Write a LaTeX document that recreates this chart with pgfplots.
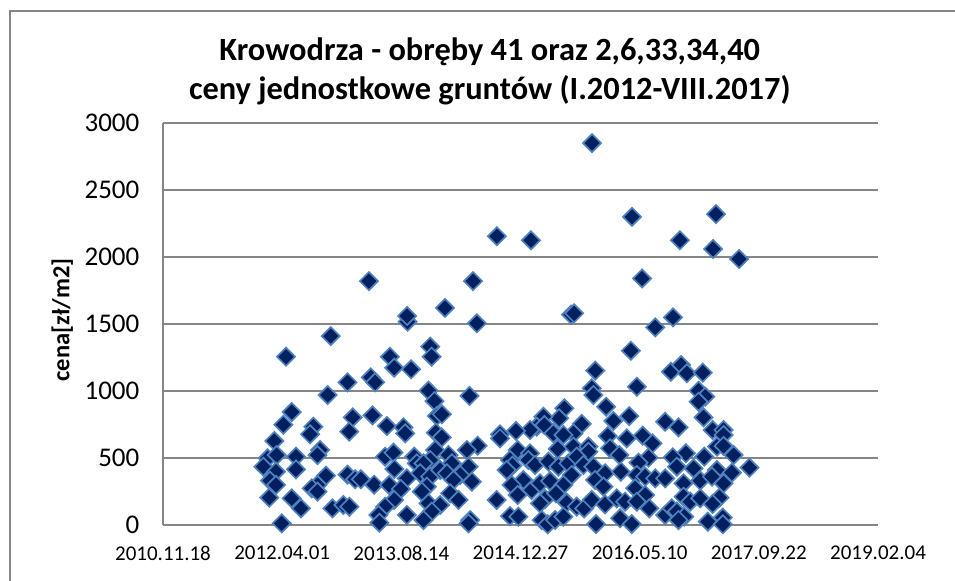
\documentclass[border=0pt]{standalone}
\usepackage{pgfplots}
\pgfplotsset{compat=1.18}
\usepackage{fontspec}
\setmainfont{Carlito}
\definecolor{gridgrey}{HTML}{868686}
\definecolor{markfill}{HTML}{002060}
\definecolor{markline}{HTML}{4F81BD}
\begin{document}
\begin{tikzpicture}[x=1bp,y=1bp]
\path[use as bounding box] (0,0) rectangle (955,-581);
\node[anchor=base,font=\rmfamily\fontsize{22bp}{22bp}\selectfont] at (462,3) {y};
\draw[gridgrey,line width=1.3bp] (10,-581) -- (10,-11) -- (955,-11);
\begin{axis}[
  at={(163bp,-525bp)},anchor=origin,
  scale only axis,width=715bp,height=402bp,
  xmin=40500,xmax=43500,ymin=0,ymax=3000,
  clip=false,
  scaled x ticks=false,
  axis y line=left,axis x line=bottom,
  axis line style={-,color=gridgrey,line width=1.5bp},
  ymajorgrids,grid style={color=gridgrey,line width=1.5bp},
  tick style={draw=none},
  xtick={40500,41000,41500,42000,42500,43000,43500},
  xticklabels={2010.11.18,2012.04.01,2013.08.14,2014.12.27,2016.05.10,2017.09.22,2019.02.04},
  ytick={0,500,1000,1500,2000,2500,3000},
  yticklabels={0,500,1000,1500,2000,2500,3000},
  yticklabel style={font=\fontsize{27bp}{27bp}\selectfont,xshift=-18bp},
  xticklabel style={font=\fontsize{21bp}{21bp}\selectfont,yshift=-15bp},
  ylabel={cena[zł/m2]},
  ylabel style={at={(axis description cs:-0.141,0.51)},anchor=center,font=\bfseries\fontsize{24.5bp}{24.5bp}\selectfont},
  title={Krowodrza - obręby 41 oraz 2,6,33,34,40\\ceny jednostkowe gruntów (I.2012-VIII.2017)},
  title style={at={(axis description cs:0.457,1.113)},anchor=center,align=center,font=\bfseries\fontsize{32.4bp}{39bp}\selectfont},
]
\addplot[only marks,mark=square*,mark size=6.4bp,
  mark options={rotate=45,fill=markfill,draw=markline,line width=1.7bp}] table {
x y
41016 1256
41204 1410
41526 1517
41817 1505
41274 1065
41191 970
41372 1102
41390 1065
41452 1256
41470 1174
41541 1162
41621 1331
41627 1256
41614 1002
41639 925
41786 963
41649 813
41670 826
41040 843
41005 749
41131 734
41117 677
41296 803
41281 697
41379 818
41439 739
41509 729
41516 684
40967 627
41645 689
41670 654
41820 592
40939 498
40977 522
41058 510
41159 560
41148 522
40921 435
41058 415
40974 398
40949 331
40974 299
41184 368
41274 376
41306 341
41330 341
41386 301
41148 299
41124 274
41148 249
40946 204
41040 199
41079 124
40998 12
41211 124
41257 149
41282 137
41432 510
41467 540
41471 418
41554 510
41565 460
41642 560
41621 485
41698 522
41712 460
41775 560
41782 435
41747 373
41796 323
41523 348
41449 299
41498 269
41470 187
41432 137
41404 75
41408 17
41523 75
41593 460
41579 386
41621 361
41607 286
41663 410
41691 386
41719 336
41586 249
41614 162
41663 149
41628 100
41593 37
41705 236
41740 187
41789 37
41782 12
42565 1475
42463 1301
42314 1152
42299 1020
42306 970
42488 1032
42359 883
42631 1144
42674 1194
42698 1132
42765 1137
42747 1002
42775 958
42747 920
42768 803
42184 871
42162 796
42096 808
42068 734
42100 746
42138 684
42257 754
42222 684
42180 672
42040 709
41981 702
41914 677
41914 647
42390 776
42456 813
42607 771
42663 729
42366 664
42446 647
42513 667
42554 609
42806 709
42852 709
42852 672
42824 585
42852 590
42894 522
42961 428
41988 560
42040 535
42156 567
42222 585
42285 585
42285 547
42376 572
42415 522
42694 535
42771 510
42639 505
42537 502
42495 465
41956 485
41966 443
41942 410
42033 485
42061 448
42117 473
42159 435
42201 460
42236 510
42264 448
42306 435
42355 386
42421 398
42726 423
42824 410
42887 391
42656 435
42488 373
42523 361
42565 348
42607 348
42684 311
42754 331
42803 361
42852 311
42012 336
41963 299
42047 261
42082 311
42124 328
42180 299
42215 373
42313 336
42348 286
42481 274
42523 224
41988 224
41900 187
42103 194
42082 162
42149 236
42194 167
42236 137
42267 124
42299 187
42355 154
42404 199
42439 174
42488 174
42540 124
42607 75
42684 211
42712 174
42754 199
42835 204
42806 157
42635 124
42656 100
42687 62
42663 37
41956 67
41991 62
42089 37
42114 5
42145 37
42180 62
42317 7
42418 50
42467 7
42786 25
42849 55
42849 5
42300 2850
42468 2300
42820 2320
41901 2155
42044 2125
42669 2125
42808 2060
42917 1985
42510 1840
41364 1820
41801 1820
41683 1620
42212 1570
42225 1580
41524 1560
42640 1550
};
\end{axis}
\end{tikzpicture}
\end{document}
